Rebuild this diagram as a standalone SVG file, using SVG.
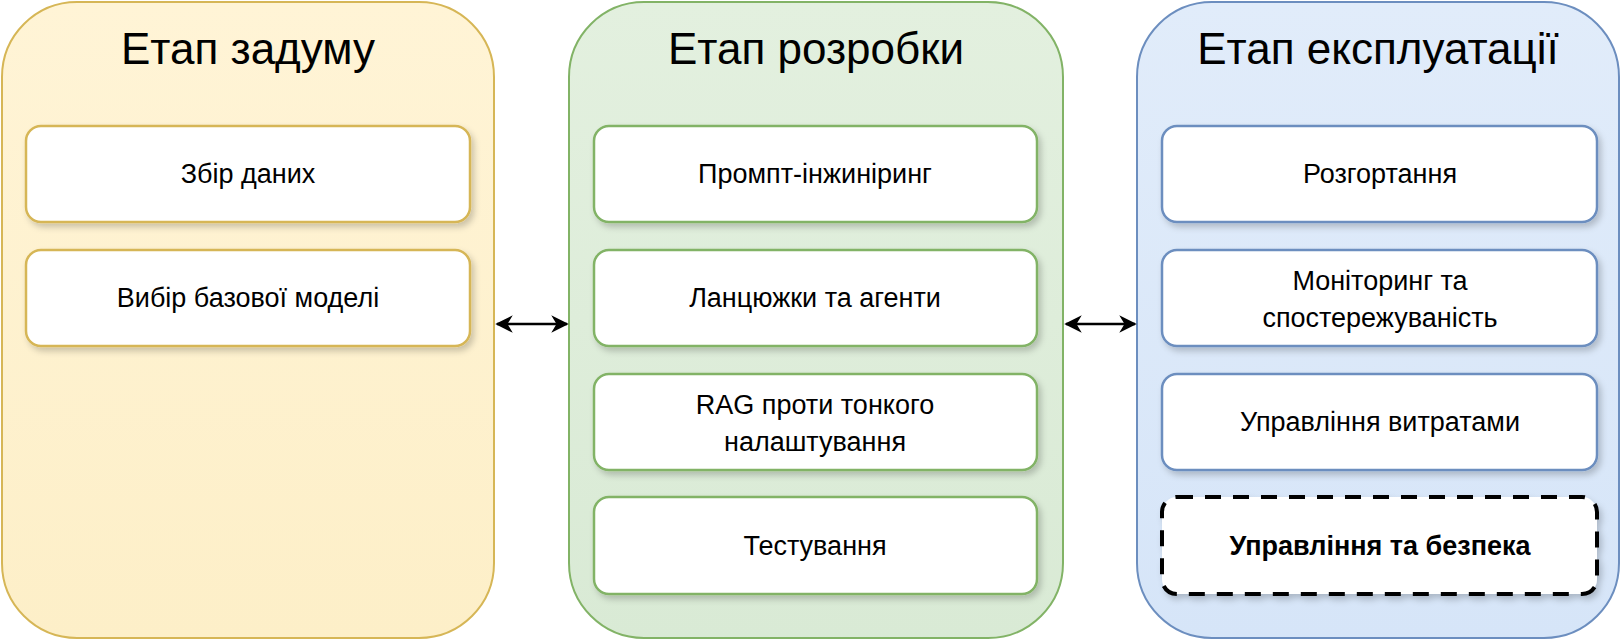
<svg xmlns="http://www.w3.org/2000/svg" width="1621" height="640" viewBox="0 0 1621 640">
<style>
text{font-family:"Liberation Sans",Arial,sans-serif;text-anchor:middle;fill:#000}
.t{font-size:44px}
.b{font-size:27px}
.bx{fill:#fff;stroke-width:2.5}
</style>
<defs>
<linearGradient id="gy" x1="0" y1="0" x2="0" y2="1"><stop offset="0" stop-color="#fff4d6"/><stop offset="1" stop-color="#fdefc8"/></linearGradient>
<linearGradient id="gg" x1="0" y1="0" x2="0" y2="1"><stop offset="0" stop-color="#e3f0df"/><stop offset="1" stop-color="#d9ead5"/></linearGradient>
<linearGradient id="gb" x1="0" y1="0" x2="0" y2="1"><stop offset="0" stop-color="#e1ecfa"/><stop offset="1" stop-color="#d6e5f8"/></linearGradient>
<filter id="sh" x="-10%" y="-10%" width="130%" height="140%"><feDropShadow dx="3" dy="4" stdDeviation="3" flood-opacity="0.2"/></filter>
<marker id="ah" viewBox="0 0 10 10" refX="9" refY="5" markerWidth="7" markerHeight="7" orient="auto-start-reverse"><path d="M0,0 L10,5 L0,10 L3,5 z" fill="#000"/></marker>
</defs>
<g id="phase1">
<rect x="2" y="2" width="492" height="636" rx="75" fill="url(#gy)" stroke="#d6b656" stroke-width="2"/>
<text class="t" x="248" y="64">Етап задуму</text>
</g>
<g id="phase2">
<rect x="569" y="2" width="494" height="636" rx="75" fill="url(#gg)" stroke="#82b366" stroke-width="2"/>
<text class="t" x="816" y="64">Етап розробки</text>
</g>
<g id="phase3">
<rect x="1137" y="2" width="482" height="636" rx="75" fill="url(#gb)" stroke="#6c8ebf" stroke-width="2"/>
<text class="t" x="1378" y="64">Етап експлуатації</text>
</g>
<g id="n1"><rect class="bx" x="26" y="126" width="444" height="96" rx="15" stroke="#d6b656" filter="url(#sh)"/><text class="b" x="248" y="183">Збір даних</text></g>
<g id="n2"><rect class="bx" x="26" y="250" width="444" height="96" rx="15" stroke="#d6b656" filter="url(#sh)"/><text class="b" x="248" y="307">Вибір базової моделі</text></g>
<g id="n3"><rect class="bx" x="594" y="126" width="443" height="96" rx="15" stroke="#82b366" filter="url(#sh)"/><text class="b" x="815" y="183">Промпт-інжиніринг</text></g>
<g id="n4"><rect class="bx" x="594" y="250" width="443" height="96" rx="15" stroke="#82b366" filter="url(#sh)"/><text class="b" x="815" y="307">Ланцюжки та агенти</text></g>
<g id="n5"><rect class="bx" x="594" y="374" width="443" height="96" rx="15" stroke="#82b366" filter="url(#sh)"/><text class="b" x="815" y="414">RAG проти тонкого</text><text class="b" x="815" y="451">налаштування</text></g>
<g id="n6"><rect class="bx" x="594" y="497" width="443" height="97" rx="15" stroke="#82b366" filter="url(#sh)"/><text class="b" x="815" y="555">Тестування</text></g>
<g id="n7"><rect class="bx" x="1162" y="126" width="435" height="96" rx="15" stroke="#6c8ebf" filter="url(#sh)"/><text class="b" x="1380" y="183">Розгортання</text></g>
<g id="n8"><rect class="bx" x="1162" y="250" width="435" height="96" rx="15" stroke="#6c8ebf" filter="url(#sh)"/><text class="b" x="1380" y="290">Моніторинг та</text><text class="b" x="1380" y="327">спостережуваність</text></g>
<g id="n9"><rect class="bx" x="1162" y="374" width="435" height="96" rx="15" stroke="#6c8ebf" filter="url(#sh)"/><text class="b" x="1380" y="431">Управління витратами</text></g>
<g id="n10"><rect x="1162" y="497" width="435" height="97" rx="15" fill="#fff" stroke="#000" stroke-width="4" stroke-dasharray="16,12" filter="url(#sh)"/><text class="b" x="1380" y="555" font-weight="bold">Управління та безпека</text></g>
<g id="connectors" stroke="#000" stroke-width="2.5">
<line x1="497" y1="324" x2="567" y2="324" marker-start="url(#ah)" marker-end="url(#ah)"/>
<line x1="1066" y1="324" x2="1135" y2="324" marker-start="url(#ah)" marker-end="url(#ah)"/>
</g>
</svg>
